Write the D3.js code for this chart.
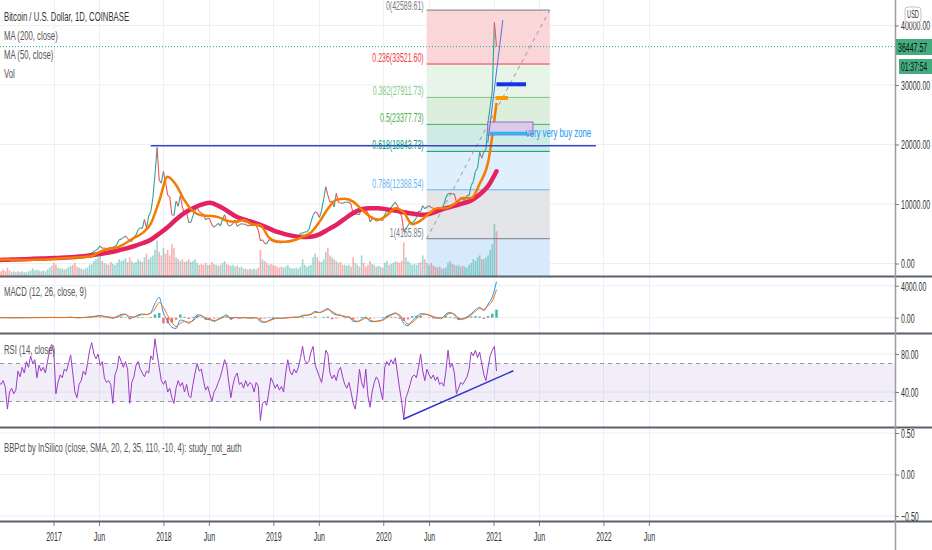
<!DOCTYPE html>
<html>
<head>
<meta charset="utf-8">
<script src="https://cdn.jsdelivr.net/npm/d3@7"></script>
<style>
  body { margin: 0; background: #fff; }
  svg { display: block; font-family: "Liberation Sans", Arial, sans-serif; }
</style>
</head>
<body>
<div id="chart"></div>
<script>
// ---- data ----
// weekly samples starting Monday 2016-07-04
const START = Date.UTC(2016, 6, 4);

const price = [
  670,665,660,655,590,570,575,580,575,610,610,600,610,615,640,650,700,705,705,740,735,765,770,790,890,960,
  900,820,920,920,1020,1000,1050,1180,1250,1230,1000,960,1090,1200,1170,1250,1350,1600,1750,2050,
  2200,2500,2950,2550,2600,2500,2550,1950,2750,2850,3250,4000,4100,4350,4650,4200,3700,3800,4350,4800,
  5700,6000,5900,7400,5900,8000,8700,11000,15000,19500,14000,13500,
  15500,13700,11500,11200,8200,8100,10500,9600,11400,9500,8200,8500,6900,6900,8000,8900,9400,8700,8500,8250,
  7350,7600,7500,6500,6100,6400,6750,6300,7400,8200,7000,6300,6400,6700,7300,6250,6500,6700,6600,6600,
  6300,6450,6400,6400,6400,5600,3800,4000,3400,3300,4000,3900,
  3700,3600,3550,3500,3450,3650,3650,3800,3850,3900,3950,4000,4100,5100,5100,5300,5300,5700,7000,8100,
  8700,8500,7700,8900,10800,12900,11500,10300,10500,9500,11800,10300,10200,10100,10300,10300,10300,10000,8200,8300,
  8300,8200,9500,9200,9000,8500,7000,7500,7500,7100,7300,7400,
  7200,8200,8900,8600,9400,9900,10300,9700,8600,8000,5350,5800,6400,6900,6900,7100,7700,8800,8700,9700,
  9200,9500,9700,9400,9300,9000,9300,9250,9200,9900,11100,11700,11800,11700,11700,10300,10300,11100,10700,10700,
  11400,11500,13100,13800,15500,16000,18700,17700,18800,19200,23800,26400,
  29000,40500,36447.57
];

const volume = [
  6,5,7,5,9,6,4,5,4,5,4,5,4,4,5,6,8,6,7,6,5,6,5,7,9,11,
  14,12,9,8,8,7,8,10,11,12,14,10,9,8,7,8,9,12,13,16,18,20,22,16,14,13,12,15,13,12,
  14,18,16,17,19,15,20,16,14,15,18,16,15,20,24,18,20,22,28,38,26,22,
  30,24,28,22,34,30,20,18,16,18,15,16,18,15,16,18,14,12,13,12,14,12,12,15,13,12,11,12,14,16,
  13,12,11,12,10,11,9,10,8,8,7,8,7,8,7,9,28,18,16,14,12,13,
  12,11,10,9,10,9,10,12,9,8,8,9,8,10,18,12,10,11,12,20,24,20,16,15,18,26,30,22,20,18,
  16,14,15,12,12,11,12,10,20,14,12,10,22,14,10,12,16,13,12,10,11,10,
  9,14,16,12,13,14,16,15,14,16,36,20,16,14,12,13,12,14,15,22,18,14,12,14,11,10,9,10,8,8,
  9,14,16,13,12,11,12,10,11,10,9,12,14,18,16,20,22,18,18,20,22,28,
  34,56,48
];

const rsi = [
  50,48,52,45,22,40,44,38,42,62, 56,66,60,72,66,78,70,74,55,68, 62,66,60,72,84,90,82,38,50,58,
  55,64,62,70,79,60,40,34,48,52, 62,58,70,84,92,80,75,80,68,72, 55,50,52,48,28,58,64,78,72,66,
  72,64,28,50,56,68,72,64,60,56, 62,60,78,74,96,80,66,52,48,52, 40,44,34,28,44,52,46,50,40,48,
  36,34,48,60,70,62,64,52,42,46, 38,30,40,44,50,56,64,74,68,50, 34,48,56,60,48,50,44,52,46,50,
  48,40,50,46,10,28,30,26,40,55, 50,44,48,42,46,40,60,74,62,58, 64,60,66,76,88,74,70,72,82,88,
  68,62,56,50,64,84,80,60,54,58, 52,62,66,56,48,44,50,40,28,22, 40,64,50,44,64,36,24,40,50,56,
  52,42,32,66,72,68,74,70,76,60, 44,30,12,34,40,48,56,58,55,66, 80,62,52,64,58,54,58,52,56,48,
  50,46,62,84,66,70,60,38,44,50, 48,52,56,64,82,78,84,76,82,70, 58,52,66,78,84,88,62
];

// MACD pane, one sample every 2 weeks
const macd = [
  8,4,-6,-10,-8,0,3,5,10,15,18,20,30,
  40,10,20,35,60,0,-20,40,60,140,200,280,120,60,-60,150,420,450,-50,60,350,450,400,650,1800,2550,
  600,-400,-1200,-1350,-300,-400,-700,-300,350,300,-200,-250,-450,-200,100,350,-200,50,-60,20,-30,-40,10,-500,-600,-350,
  -100,-50,-80,-20,40,60,70,300,330,450,800,650,900,1150,600,350,300,100,80,-450,-500,-200,50,-450,-500,-400,
  -250,200,400,600,200,-700,-1000,-400,100,500,450,300,50,-60,-40,450,650,350,-250,-150,100,500,1000,1300,900,1700,
  2600,4500
];
const signal = [
  5,5,0,-5,-7,-4,0,3,6,10,14,17,22,
  30,22,20,26,40,25,5,20,40,90,150,210,170,110,30,80,280,400,150,80,250,380,400,550,1100,1900,
  1300,300,-600,-1100,-700,-500,-550,-400,100,250,0,-150,-350,-250,0,220,0,20,-30,0,-20,-30,0,-300,-500,-420,
  -200,-80,-70,-40,10,45,65,200,300,400,650,650,800,1000,800,450,320,170,100,-250,-450,-300,-50,-300,-450,-430,
  -330,0,300,500,350,-300,-800,-600,-150,300,450,350,150,0,-40,250,550,450,0,-180,0,350,800,1150,1050,1500,
  2100,3500
];
const hist = [
  3,-1,-6,-5,-1,4,3,2,4,5,4,3,8,
  10,-12,0,9,20,-25,-25,20,20,50,50,70,-50,-50,-90,70,140,50,-200,-20,100,70,0,100,400,600,
  -700,-700,-600,-250,400,100,-150,100,250,50,-200,-100,-100,50,100,130,-200,30,-30,20,-10,-10,10,-200,-100,70,
  100,30,-10,20,30,15,5,100,30,50,150,0,100,150,-200,-100,-20,-70,-20,-200,-50,100,100,-150,-50,30,
  80,200,100,100,-150,-400,-200,200,250,200,0,-50,-100,-50,0,200,100,-100,-250,30,100,150,200,150,-150,200,
  500,1000
];

// moving averages, one sample every 4 weeks
const ma200 = [
  600,640,680,720,780,840,880,940,1000,1080,1200,1400,1600,1850,2150,2500,2900,3400,4000,5000,
  6100,7400,8500,9300,9900,10200,9700,8900,8000,7400,7000,6500,5900,5300,4900,4600,4450,4500,4900,5700,
  6500,7500,8500,9100,9300,9300,9100,8900,8600,8400,8200,8300,8800,9300,9700,10100,10600,11600,13000,15500
];
const ma50 = [
  620,660,630,600,620,660,730,820,920,1000,1100,1250,2000,2500,2700,3400,4300,5100,6700,10500,
  14600,13200,10600,8800,8100,8000,7800,7200,7000,7300,6600,6400,4400,3700,3650,3900,4500,5200,7000,9200,
  10700,10900,10400,9100,7900,7400,8100,9300,8600,6600,7200,8400,9300,9300,10000,11000,11000,13400,17000,27000
];

const fibLevels = ["0", "0.236", "0.382", "0.5", "0.618", "0.786", "1"];
const fibPrices = [42589.61, 33521.60, 27911.73, 23377.73, 18843.73, 12388.54, 4165.85];
const lastPrice = "36447.57";
const timer = "01:37:54";

// ---- layout / style ----
const width = 932, height = 550;
const axisX = 895;
const SQ = 0.56;               // horizontal squeeze of all text
const SQ_LEG = 0.62;           // legends are a little wider
const FS = 12.5;
const green = "#26a69a", red = "#ef5350";
const fibLine = ["#787b86", "#f23645", "#81c784", "#4caf50", "#089981", "#64b5f6", "#787b86"];
const fibFill = ["#fbd6d8", "#e7f4e8", "#dcefdd", "#cfebe6", "#e0effc", "#e4e5e8", "#d6eafb"];

const DAY = 864e5;
const dt = (y, m, d) => new Date(Date.UTC(y, m - 1, d));
const wk = i => new Date(START + i * 7 * DAY);

const svg = d3.select("#chart").append("svg")
  .attr("width", width).attr("height", height)
  .attr("viewBox", [0, 0, width, height]);

svg.append("rect").attr("width", width).attr("height", height).attr("fill", "#fff");

function label(g, x, y, s, o = {}) {
  return g.append("text")
    .attr("transform", `translate(${x},${y}) scale(${o.sq || SQ},1)`)
    .attr("text-anchor", o.anchor || "start")
    .attr("fill", o.fill || "#333")
    .attr("font-size", o.size || FS)
    .text(s);
}

// scales
const x = d3.scaleUtc().domain([dt(2017, 1, 1), dt(2021, 1, 1)]).range([53.5, 493.5]);
const yMain = d3.scaleLinear().domain([0, 40000]).range([263.5, 25.5]);
const yVol = d3.scaleLinear().domain([0, 60]).range([276, 220]);
const yMacd = d3.scaleLinear().domain([0, 4000]).range([317.7, 285.7]);
const yRsi = d3.scaleLinear().domain([40, 80]).range([392, 354]);
const yBB = d3.scaleLinear().domain([-0.5, 0.5]).range([516, 433]);

const panes = { main: [0, 276], macd: [277, 333], rsi: [334, 427], bb: [428, 521] };

const defs = svg.append("defs");
Object.entries(panes).forEach(([k, [a, b]]) => {
  defs.append("clipPath").attr("id", "clip-" + k)
    .append("rect").attr("x", 0).attr("y", a).attr("width", axisX).attr("height", b - a);
});

// grid
const xTicks = [];
for (let yr = 2017; yr <= 2022; yr++) xTicks.push(dt(yr, 1, 1), dt(yr, 6, 1));
const grid = svg.append("g").attr("stroke", "#eceff3").attr("stroke-width", 1);
grid.selectAll("line.v").data(xTicks).join("line")
  .attr("x1", d => Math.round(x(d)) + 0.5).attr("x2", d => Math.round(x(d)) + 0.5)
  .attr("y1", 0).attr("y2", 521);
const hGrid = [
  ...[0, 10000, 20000, 30000, 40000].map(v => yMain(v)),
  ...[0, 4000].map(v => yMacd(v)),
  ...[40, 80].map(v => yRsi(v)),
  ...[-0.5, 0, 0.5].map(v => yBB(v))
];
grid.selectAll("line.h").data(hGrid).join("line")
  .attr("x1", 0).attr("x2", axisX).attr("y1", d => d).attr("y2", d => d);

// ---- main pane ----
const main = svg.append("g").attr("clip-path", "url(#clip-main)");

// fibonacci retracement
const fx0 = x(dt(2020, 5, 24)), fx1 = x(dt(2021, 7, 7));
const fibYs = fibPrices.map(p => yMain(p));
fibFill.forEach((c, k) => {
  const top = fibYs[k];
  const bot = k < fibYs.length - 1 ? fibYs[k + 1] : 276;
  main.append("rect").attr("x", fx0).attr("y", top).attr("width", fx1 - fx0)
    .attr("height", bot - top).attr("fill", c);
});
fibYs.forEach((yy, k) => {
  main.append("line").attr("x1", fx0).attr("x2", fx1).attr("y1", yy).attr("y2", yy)
    .attr("stroke", fibLine[k]).attr("stroke-width", 1);
});
main.append("line")
  .attr("x1", fx0).attr("y1", yMain(fibPrices[6]))
  .attr("x2", fx1).attr("y2", yMain(fibPrices[0]))
  .attr("stroke", "#9598a1").attr("stroke-dasharray", "4,4");

// volume
main.append("g").selectAll("rect").data(volume).join("rect")
  .attr("x", (d, i) => x(wk(i)) - 0.8).attr("width", 1.6)
  .attr("y", d => yVol(d)).attr("height", d => yVol(0) - yVol(d))
  .attr("fill", (d, i) => (i === 0 || price[i] >= price[i - 1]) ? green : red)
  .attr("opacity", 0.45);

// price path, coloured by direction
main.append("g").selectAll("line").data(d3.pairs(price.map((p, i) => [i, p]))).join("line")
  .attr("x1", d => x(wk(d[0][0]))).attr("y1", d => yMain(d[0][1]))
  .attr("x2", d => x(wk(d[1][0]))).attr("y2", d => yMain(d[1][1]))
  .attr("stroke", d => d[1][1] >= d[0][1] ? green : red)
  .attr("stroke-width", 1.1);

// moving averages
const maLine = d3.line().x((d, k) => x(new Date(START + k * 28 * DAY))).y(d => yMain(d))
  .curve(d3.curveMonotoneX);
main.append("path").datum(ma200).attr("d", maLine)
  .attr("fill", "none").attr("stroke", "#e3225f").attr("stroke-width", 4.5)
  .attr("stroke-linecap", "round");
main.append("path").datum(ma50).attr("d", maLine)
  .attr("fill", "none").attr("stroke", "#f57c00").attr("stroke-width", 2.5);

// drawings
main.append("line")
  .attr("x1", x(dt(2017, 11, 20))).attr("x2", x(dt(2021, 12, 7)))
  .attr("y1", yMain(19800)).attr("y2", yMain(19800))
  .attr("stroke", "#3448c5").attr("stroke-width", 1.5);
main.append("rect")
  .attr("x", x(dt(2020, 12, 13))).attr("y", yMain(23780))
  .attr("width", x(dt(2021, 5, 12)) - x(dt(2020, 12, 13)))
  .attr("height", yMain(21600) - yMain(23780))
  .attr("fill", "#dccbe8").attr("stroke", "#9b6cc0").attr("stroke-width", 1);
main.append("rect")
  .attr("x", x(dt(2020, 12, 20))).attr("y", yMain(22150))
  .attr("width", x(dt(2021, 4, 22)) - x(dt(2020, 12, 20)))
  .attr("height", yMain(21600) - yMain(22150))
  .attr("fill", "#29b6f6");
main.append("line")
  .attr("x1", x(dt(2021, 1, 11))).attr("x2", x(dt(2021, 4, 19)))
  .attr("y1", yMain(30120)).attr("y2", yMain(30120))
  .attr("stroke", "#1533e6").attr("stroke-width", 4);
main.append("line")
  .attr("x1", x(dt(2021, 1, 8))).attr("x2", x(dt(2021, 2, 18)))
  .attr("y1", yMain(27815)).attr("y2", yMain(27815))
  .attr("stroke", "#ff9800").attr("stroke-width", 4);
main.append("line")
  .attr("x1", x(dt(2020, 12, 13))).attr("y1", yMain(20250))
  .attr("x2", x(dt(2021, 2, 1))).attr("y2", yMain(40920))
  .attr("stroke", "#5b6ee1").attr("stroke-width", 1);

label(main, x(dt(2021, 4, 18)), yMain(21900) + 4, "very very buy zone", { fill: "#2196f3", size: 13, sq: 0.6 });

// fib labels (top one nudged down so it is not cut at the edge)
fibLevels.forEach((lv, k) => {
  const yy = Math.max(fibYs[k] - 2, 10);
  label(svg, fx0 - 3, yy, `${lv}(${fibPrices[k].toFixed(2)})`, { anchor: "end", fill: fibLine[k] });
});

// current price line
svg.append("line").attr("x1", 0).attr("x2", axisX)
  .attr("y1", yMain(+lastPrice)).attr("y2", yMain(+lastPrice))
  .attr("stroke", green).attr("stroke-dasharray", "1,2").attr("stroke-width", 1);

// ---- MACD pane ----
const macdG = svg.append("g").attr("clip-path", "url(#clip-macd)");
const mDate = j => new Date(START + j * 14 * DAY);
macdG.append("g").selectAll("rect").data(hist).join("rect")
  .attr("x", (d, j) => x(mDate(j)) - 1.2).attr("width", 2.4)
  .attr("y", d => Math.min(yMacd(d), yMacd(0)))
  .attr("height", d => Math.abs(yMacd(d) - yMacd(0)))
  .attr("fill", d => d >= 0 ? green : red)
  .attr("opacity", 0.85);
const mLine = d3.line().x((d, j) => x(mDate(j))).y(d => yMacd(d)).curve(d3.curveMonotoneX);
macdG.append("path").datum(macd).attr("d", mLine)
  .attr("fill", "none").attr("stroke", "#2196f3").attr("stroke-width", 1);
macdG.append("path").datum(signal).attr("d", mLine)
  .attr("fill", "none").attr("stroke", "#ff6d00").attr("stroke-width", 1);

// ---- RSI pane ----
const rsiG = svg.append("g").attr("clip-path", "url(#clip-rsi)");
rsiG.append("rect").attr("x", 0).attr("width", axisX)
  .attr("y", yRsi(70)).attr("height", yRsi(30) - yRsi(70))
  .attr("fill", "#7e57c2").attr("opacity", 0.1);
[70, 30].forEach(v => {
  rsiG.append("line").attr("x1", 0).attr("x2", axisX).attr("y1", yRsi(v)).attr("y2", yRsi(v))
    .attr("stroke", "#9598a1").attr("stroke-dasharray", "4,4");
});
rsiG.append("path").datum(rsi)
  .attr("d", d3.line().x((d, i) => x(wk(i))).y(d => yRsi(d)))
  .attr("fill", "none").attr("stroke", "#9c3cc4").attr("stroke-width", 1);
rsiG.append("line")
  .attr("x1", x(dt(2020, 3, 7))).attr("y1", yRsi(11.3))
  .attr("x2", x(dt(2021, 3, 8))).attr("y2", yRsi(62.4))
  .attr("stroke", "#3333cc").attr("stroke-width", 1.5);

// ---- pane separators and axis line ----
[276.5, 333.5, 427.5, 521.5].forEach(yy => {
  svg.append("line").attr("x1", 0).attr("x2", width).attr("y1", yy).attr("y2", yy)
    .attr("stroke", "#5d606b").attr("stroke-width", 2);
});
svg.append("line").attr("x1", axisX + 0.5).attr("x2", axisX + 0.5).attr("y1", 0).attr("y2", height)
  .attr("stroke", "#9a9da5").attr("stroke-width", 1.5);

// ---- right axes ----
function rightAxis(scale, values) {
  const g = svg.append("g").attr("transform", `translate(${axisX},0)`)
    .call(d3.axisRight(scale).tickValues(values).tickFormat(d3.format(".2f")).tickSize(4));
  g.select(".domain").remove();
  g.selectAll(".tick line").attr("stroke", "#787b86");
  g.selectAll(".tick text")
    .attr("x", 0).attr("dy", "0.35em")
    .attr("transform", `translate(6,0) scale(${SQ},1)`)
    .attr("fill", "#333").attr("font-size", FS)
    .attr("font-family", "Liberation Sans, Arial, sans-serif");
}
rightAxis(yMain, [0, 10000, 20000, 30000, 40000]);
rightAxis(yMacd, [0, 4000]);
rightAxis(yRsi, [40, 80]);
rightAxis(yBB, [-0.5, 0, 0.5]);

// USD badge
svg.append("rect").attr("x", 905).attr("y", 7).attr("width", 16).attr("height", 15).attr("rx", 3)
  .attr("fill", "#fff").attr("stroke", "#c0c3ca");
label(svg, 913, 18, "USD", { anchor: "middle", size: 10 });

// last price and timer badges
svg.append("rect").attr("x", 896).attr("y", 39).attr("width", 36).attr("height", 16).attr("fill", "#44ad7f");
label(svg, 898, 51.5, lastPrice, { fill: "#111" });
svg.append("rect").attr("x", 899).attr("y", 59).attr("width", 33).attr("height", 15).attr("fill", "#44ad7f");
label(svg, 901, 70.5, timer, { fill: "#111", size: 12 });

// ---- x axis ----
const xg = svg.append("g").attr("transform", "translate(0,522)")
  .call(d3.axisBottom(x).tickValues(xTicks).tickSize(4)
    .tickFormat(d => d.getUTCMonth() === 0 ? String(d.getUTCFullYear()) : "Jun"));
xg.select(".domain").remove();
xg.selectAll(".tick line").attr("stroke", "#787b86");
xg.selectAll(".tick text")
  .attr("y", 0).attr("dy", 0)
  .attr("transform", `translate(0,19) scale(${SQ},1)`)
  .attr("fill", "#333").attr("font-size", FS)
  .attr("font-family", "Liberation Sans, Arial, sans-serif");

// ---- legends ----
const leg = { fill: "#555", sq: SQ_LEG };
label(svg, 4, 21, "Bitcoin / U.S. Dollar, 1D, COINBASE", { fill: "#333", sq: SQ_LEG });
label(svg, 4, 40, "MA (200, close)", leg);
label(svg, 4, 59, "MA (50, close)", leg);
label(svg, 4, 78, "Vol", leg);
label(svg, 4, 296, "MACD (12, 26, close, 9)", leg);
label(svg, 4, 354, "RSI (14, close)", leg);
label(svg, 4, 452, "BBPct by InSilico (close, SMA, 20, 2, 35, 110, -10, 4): study_not_auth", leg);
</script>
</body>
</html>
